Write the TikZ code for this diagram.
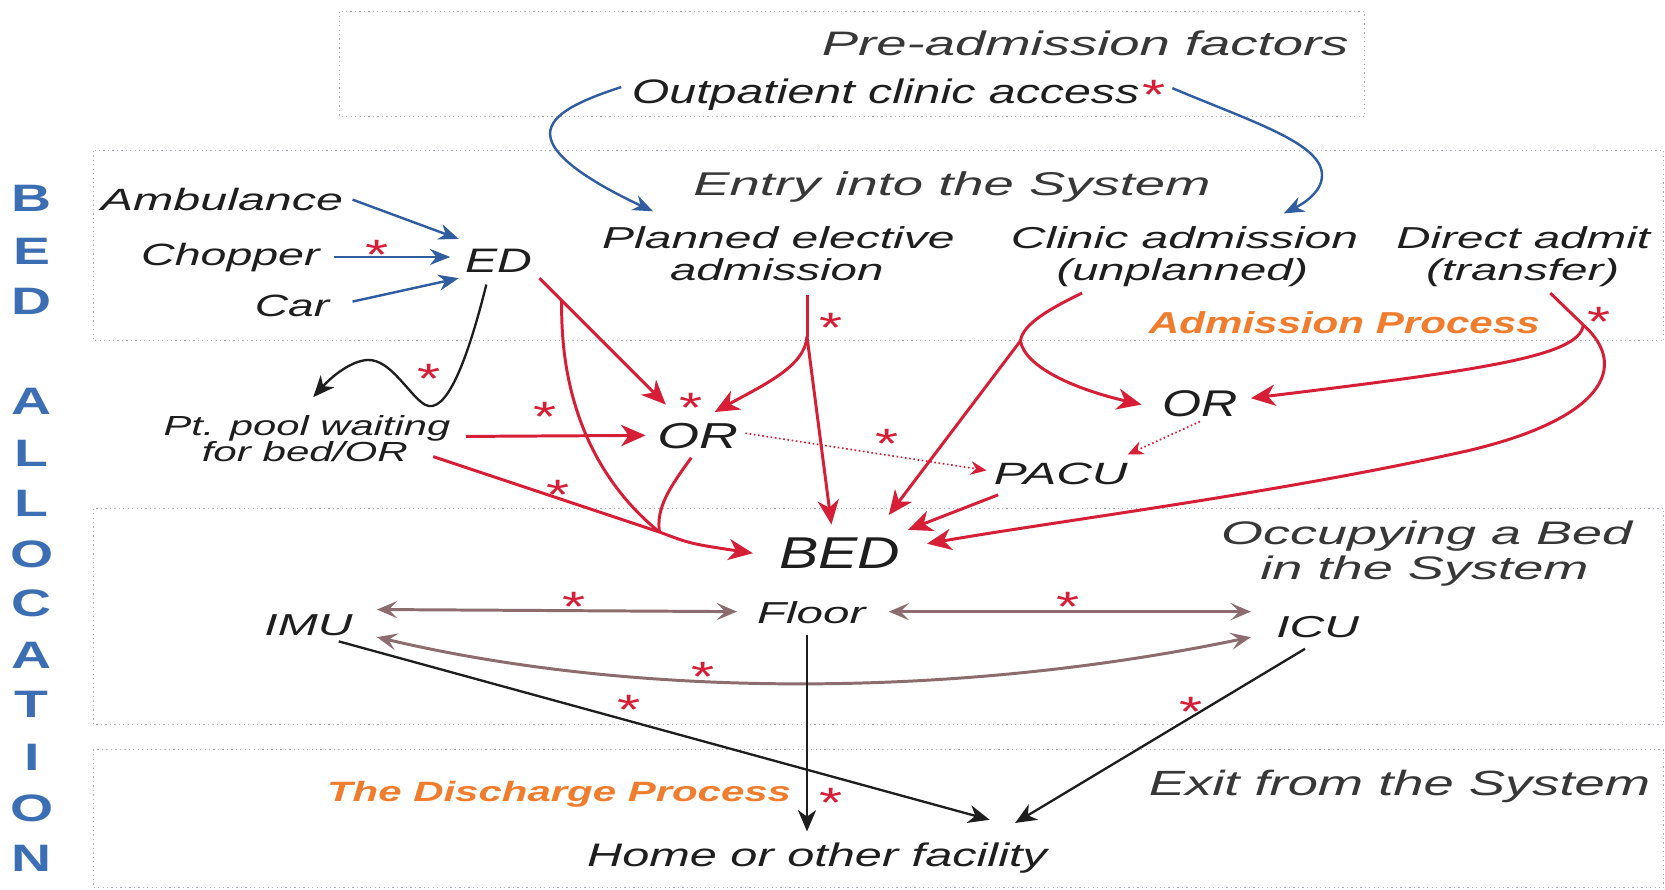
\documentclass[tikz,border=0pt]{standalone}
\usepackage{fontspec}
\setmainfont{Liberation Sans}
\usepackage{graphicx}
\usetikzlibrary{arrows.meta,calc}
\definecolor{txt}{RGB}{30,30,30}
\definecolor{hdr}{RGB}{55,55,55}
\definecolor{myred}{RGB}{214,30,55}
\definecolor{myblue}{RGB}{48,92,160}
\definecolor{mauve}{RGB}{140,108,110}
\definecolor{orng}{RGB}{240,125,45}
\definecolor{boxc}{RGB}{170,176,186}
\definecolor{bedblue}{RGB}{60,110,180}
\newcommand\tw[2]{\resizebox{#1pt}{\height}{#2}}
\begin{document}
\begin{tikzpicture}[x=1pt,y=-1pt,
 lbl/.style={anchor=base west, inner sep=0pt, outer sep=0pt, text=txt, font=\fontsize{#1}{#1}\selectfont\itshape},
 hdrlbl/.style={lbl=#1, text=hdr},
 orl/.style={anchor=base west, inner sep=0pt, outer sep=0pt, text=orng, font=\fontsize{#1}{#1}\selectfont\bfseries\itshape},
 ast/.style={anchor=base, inner sep=0pt, text=myred, font=\fontsize{40}{40}\selectfont},
 bal/.style={anchor=base, inner sep=0pt, text=bedblue, font=\fontsize{36}{36}\selectfont\bfseries},
 boxs/.style={draw=boxc, line width=1pt, dash pattern=on 1.2pt off 3pt},
 redl/.style={draw=myred, line width=2.8pt},
 redarr/.style={redl, -{Stealth[length=23pt,width=20pt,inset=7pt]}},
 reddot/.style={draw=myred, line width=1.6pt, dash pattern=on 1.5pt off 2.5pt, -{Stealth[length=15pt,width=13pt,inset=5pt]}},
 bluearr/.style={draw=myblue, line width=2.3pt, -{Stealth[length=19pt,width=15pt,inset=6pt]}},
 blkarr/.style={draw=txt, line width=2.2pt, -{Stealth[length=20pt,width=17pt,inset=6pt]}},
 mauvearr/.style={draw=mauve, line width=2.8pt, {Stealth[length=19pt,width=16pt,inset=8pt]}-{Stealth[length=19pt,width=16pt,inset=8pt]}}
]
\useasboundingbox (0,0) rectangle (1568,838);
\fill[white] (0,0) rectangle (1568,838);
% frames
\draw[boxs] (320,11) rectangle (1285,110);
\draw[boxs] (88,142) rectangle (1567,321);
\draw[boxs] (88,479) rectangle (1567,682);
\draw[boxs] (88,706) rectangle (1567,836);
% side title
\foreach \l/\y [count=\i] in {B/186,E/236,D/283,A/377,L/426,L/473,O/521,C/568,A/617,T/663,I/713,O/761,N/808}
  \node[bal] (ba\i) at (30,\y+13) {\scalebox{1.45}[1]{\l}};
% labels
\node[hdrlbl=32] (pre) at (774,52) {\tw{496}{Pre-admission factors}};
\node[lbl=32] (outp) at (595,97) {\tw{478}{Outpatient clinic access}};
\node[hdrlbl=31] (entry) at (653,184) {\tw{487}{Entry into the System}};
\node[lbl=29] (amb) at (95,198) {\tw{228}{Ambulance}};
\node[lbl=29] (chop) at (133,250) {\tw{168}{Chopper}};
\node[lbl=29] (car) at (240,298) {\tw{70}{Car}};
\node[lbl=32] (ED) at (438,257) {\tw{63}{ED}};
\node[lbl=28.5] (plan1) at (567,234) {\tw{332}{Planned elective}};
\node[lbl=28.5] (plan2) at (631,264) {\tw{201}{admission}};
\node[lbl=28.5] (clin1) at (952,234) {\tw{327}{Clinic admission}};
\node[lbl=28.5] (clin2) at (995,264) {\tw{237}{(unplanned)}};
\node[lbl=28.5] (dir1) at (1315,234) {\tw{239}{Direct admit}};
\node[lbl=28.5] (dir2) at (1343,264) {\tw{182}{(transfer)}};
\node[orl=28.5] (admp) at (1082,314) {\tw{368}{Admission Process}};
\node[lbl=26] (pool1) at (154,410) {\tw{270}{Pt. pool waiting}};
\node[lbl=26] (pool2) at (190,435) {\tw{194}{for bed/OR}};
\node[lbl=34] (ORl) at (619,422) {\tw{76}{OR}};
\node[lbl=35] (ORr) at (1095,392) {\tw{71}{OR}};
\node[lbl=29] (PACU) at (936,456) {\tw{126}{PACU}};
\node[lbl=42] (BED) at (734,535) {\tw{114}{BED}};
\node[hdrlbl=30.7] (occ1) at (1150,513) {\tw{387}{Occupying a Bed}};
\node[hdrlbl=30.7] (occ2) at (1187,546) {\tw{309}{in the System}};
\node[lbl=28.5] (IMU) at (249,598) {\tw{83}{IMU}};
\node[lbl=28.5] (Floor) at (713,587) {\tw{102}{Floor}};
\node[lbl=28.5] (ICU) at (1202,600) {\tw{78}{ICU}};
\node[orl=26.3] (disch) at (308,755) {\tw{437}{The Discharge Process}};
\node[hdrlbl=33] (exit) at (1082,749) {\tw{472}{Exit from the System}};
\node[lbl=30.7] (home) at (553,816) {\tw{433}{Home or other facility}};
% asterisks
\foreach \x/\y [count=\i] in {1087/80,355/231,404/348,783/300,651/375,513/383,526/457,835/409,1506/294,541/562,1006/562,662/628,592/659,1122/661,783/747}
  \node[ast] (ast\i) at (\x,\y+23) {\scalebox{1.4}[1]{*}};
% branch points
\coordinate (Eb) at (529,283);
\coordinate (M) at (621,501);
\coordinate (Pb) at (760,317);
\coordinate (Cb) at (961,321);
\coordinate (Db) at (1491,306);
% blue
\draw[bluearr] ($(amb.base west)+(237,-10)$) -- ($(ED.base west)+(-6,-32)$);
\draw[bluearr] ($(chop.base west)+(182,-8)$) -- ($(ED.base west)+(-14,-15)$);
\draw[bluearr] ($(car.base west)+(92,-14)$) -- ($(ED.base west)+(-6,5)$);
\draw[bluearr] ($(outp.base west)+(-10,-15)$) .. controls (545,95) and (518,108) .. (518,126) .. controls (518,150) and (570,178) .. ($(plan1.base west)+(48,-35)$);
\draw[bluearr] ($(outp.base west)+(509,-14)$) .. controls (1180,115) and (1245,135) .. (1245,165) .. controls (1245,182) and (1225,193) .. ($(clin1.base west)+(257,-33)$);
% red
\draw[redarr] ($(ED.base west)+(70,5)$) -- ($(ORl.base west)+(8,-41)$);
\draw[redl] (Eb) .. controls (527,390) and (570,460) .. (M);
\draw[redl] ($(pool2.base west)+(218,-5)$) -- (M);
\draw[redl] ($(ORl.base west)+(32,9)$) .. controls (630,460) and (618,478) .. (M);
\draw[redarr] (M) .. controls (650,512) .. ($(BED.base west)+(-25,-14)$);
\draw[redarr] ($(pool1.base west)+(285,1)$) -- ($(ORl.base west)+(-11,-12)$);
\draw[redl] ($(plan2.base west)+(129,14)$) -- (Pb);
\draw[redarr] (Pb) .. controls (758,345) and (720,362) .. ($(ORl.base west)+(54,-34)$);
\draw[redarr] (Pb) -- ($(BED.base west)+(49,-41)$);
\draw[reddot] ($(ORl.base west)+(83,-14)$) -- ($(PACU.base west)+(-7,-13)$);
\draw[redl] ($(clin2.base west)+(24,12)$) .. controls (990,290) and (963,305) .. (Cb);
\draw[redarr] (Cb) -- ($(BED.base west)+(103,-50)$);
\draw[redarr] (Cb) .. controls (965,345) and (1010,366) .. ($(ORr.base west)+(-20,-11)$);
\draw[redl] ($(dir2.base west)+(117,12)$) -- (Db);
\draw[redarr] (Db) .. controls (1488,335) and (1400,348) .. ($(ORr.base west)+(83,-17)$);
\draw[redarr] (Db) .. controls (1535,345) and (1510,395) .. (1380,425) .. controls (1200,465) and (1000,490) .. ($(BED.base west)+(139,-23)$);
\draw[redarr] ($(PACU.base west)+(4,10)$) -- ($(BED.base west)+(121,-36)$);
\draw[reddot] ($(ORr.base west)+(35,5)$) -- ($(PACU.base west)+(126,-28)$);
% mauve
\draw[mauvearr] ($(IMU.base west)+(106,-24)$) -- ($(Floor.base west)+(-19,-11)$);
\draw[mauvearr] ($(Floor.base west)+(124,-11)$) -- ($(ICU.base west)+(-24,-24)$);
\draw[mauvearr] ($(IMU.base west)+(106,2)$) .. controls (600,658) and (900,658) .. ($(ICU.base west)+(-24,0)$);
% black
\draw[blkarr] ($(ED.base west)+(20,11)$) .. controls (440,340) and (420,392) .. (400,381) .. controls (385,372) and (368,338) .. (346,339) .. controls (330,340) and (312,355) .. ($(pool1.base west)+(141,-36)$);
\draw[blkarr] ($(Floor.base west)+(47,11)$) -- ($(home.base west)+(207,-33)$);
\draw[blkarr] ($(IMU.base west)+(70,6)$) -- ($(home.base west)+(379,-44)$);
\draw[blkarr] ($(ICU.base west)+(27,11)$) -- ($(home.base west)+(403,-41)$);
\end{tikzpicture}
\end{document}
